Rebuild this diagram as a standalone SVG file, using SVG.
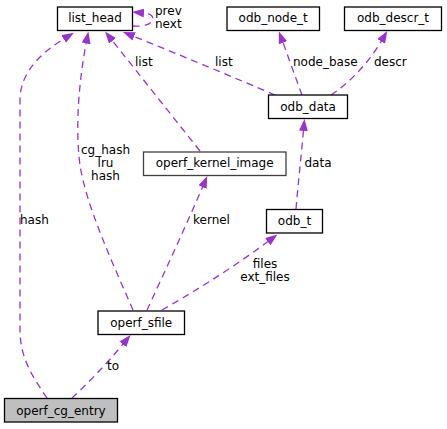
<svg xmlns="http://www.w3.org/2000/svg" width="447" height="429" viewBox="0 0 447 429">
<style>
text{font-family:"DejaVu Sans","Liberation Sans",sans-serif;font-size:12px;fill:#000}
.node rect{fill:#fff;stroke:#000;stroke-width:1.3}
.node text{text-anchor:middle}
.edge{fill:none;stroke:#9a32cd;stroke-width:1.3;stroke-dasharray:7,5;marker-end:url(#ah)}
.c{text-anchor:middle}
</style>
<defs>
<marker id="ah" markerUnits="userSpaceOnUse" viewBox="0 0 12 9" refX="1" refY="4.5" markerWidth="12" markerHeight="9" orient="auto">
<path d="M0,0 L12,4.5 L0,9 z" fill="#9a32cd"/>
</marker>
</defs>
<g id="edges">
<path class="edge" d="M132.5,26 C146,27 153,23 153,19 C153,15 149,13.5 143,13"/>
<path class="edge" d="M47,398 C35,380 20,360 20,330 L20,100 C20,72 42,52 64.5,38.5"/>
<path class="edge" d="M133,310 C112,262 86,205 80,165 C75,128 79,80 86.3,42.4"/>
<path class="edge" d="M200,151 L111.9,40.1"/>
<path class="edge" d="M275,95 C240,80 180,55 133.2,36.1"/>
<path class="edge" d="M302,95 L282.7,41.8"/>
<path class="edge" d="M331,95 C348,84 368,64 381.7,40.5"/>
<path class="edge" d="M296,209 C298,185 301,158 303.5,130"/>
<path class="edge" d="M147,310 C160,282 185,228 202.9,186.2"/>
<path class="edge" d="M162,310 C185,297 230,270 268.6,241"/>
<path class="edge" d="M72,398 C85,386 105,366 123.5,343.5"/>
<text x="155" y="14.5">prev</text>
<text x="155" y="27.5">next</text>
<text x="20" y="223.5">hash</text>
<text class="c" x="105.5" y="154">cg_hash</text>
<text class="c" x="105.5" y="166.5">lru</text>
<text class="c" x="105.5" y="179.5">hash</text>
<text x="135" y="66">list</text>
<text x="215" y="66">list</text>
<text x="293" y="66">node_base</text>
<text x="374" y="66">descr</text>
<text x="304.5" y="166.5">data</text>
<text x="193" y="223.5">kernel</text>
<text class="c" x="265" y="267.5">files</text>
<text class="c" x="265" y="281">ext_files</text>
<text x="107" y="369.5">to</text>
</g>
<g id="list_head" class="node"><rect x="57.5" y="7" width="75" height="23.5"/><text x="95" y="22">list_head</text></g>
<g id="odb_node_t" class="node"><rect x="227" y="7" width="92.5" height="23.5"/><text x="273.2" y="22">odb_node_t</text></g>
<g id="odb_descr_t" class="node"><rect x="344.5" y="7" width="97" height="23.5"/><text x="393" y="22">odb_descr_t</text></g>
<g id="odb_data" class="node"><rect x="268.5" y="95" width="79" height="23.5"/><text x="308" y="110.5">odb_data</text></g>
<g id="operf_kernel_image" class="node"><rect x="143.5" y="152" width="142.5" height="23.5" style="stroke:#404040"/><text x="214.7" y="167">operf_kernel_image</text></g>
<g id="odb_t" class="node"><rect x="266.5" y="209.5" width="56" height="23.5"/><text x="294.5" y="225">odb_t</text></g>
<g id="operf_sfile" class="node"><rect x="98" y="311" width="86.5" height="23.5"/><text x="141.2" y="326.5">operf_sfile</text></g>
<g id="operf_cg_entry" class="node"><rect x="4.5" y="398.5" width="113" height="23.5" style="fill:#bfbfbf"/><text x="61" y="414.5">operf_cg_entry</text></g>
</svg>
